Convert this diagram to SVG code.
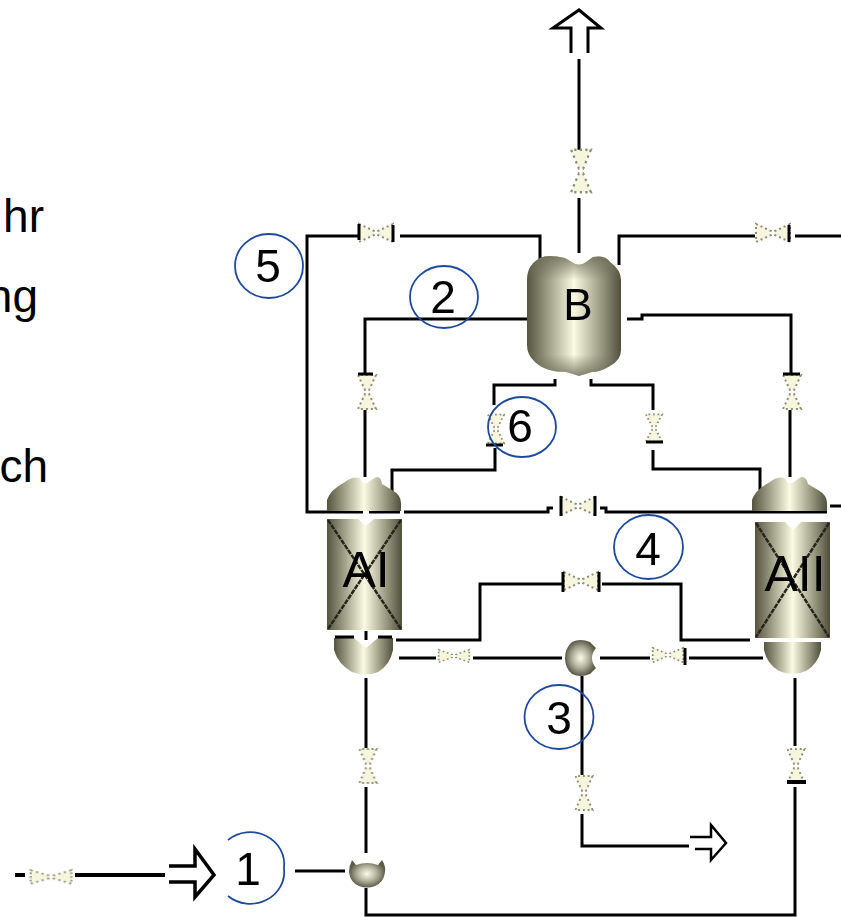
<svg xmlns="http://www.w3.org/2000/svg" xmlns:xlink="http://www.w3.org/1999/xlink" width="841" height="917" viewBox="0 0 841 917">
<style>
.t{font-family:"Liberation Sans",Arial,sans-serif;fill:#000;text-anchor:middle}
.n{font-size:46px}
.side{font-family:"Liberation Sans",Arial,sans-serif;font-size:46px;fill:#000;text-anchor:end}
.c{fill:none;stroke:#000;stroke-width:3;stroke-linejoin:miter}
.ring{fill:none;stroke:#1f4a9c;stroke-width:1.8}
.bar{fill:none;stroke:#000;stroke-width:3}
.vf{fill:#f6f6df;stroke:#8d8d72;stroke-width:2;stroke-dasharray:2 3}
.x{stroke:#26261c;stroke-width:2.5;stroke-dasharray:5 1;fill:none}
.vv{fill:url(#hg)}
.ov{fill:url(#vg)}
.ball{fill:url(#rg)}
</style>
<defs>
<filter id="soft" x="-10%" y="-10%" width="120%" height="120%"><feGaussianBlur stdDeviation="0.5"/></filter>
<linearGradient id="hg" x1="0" y1="0" x2="1" y2="0">
<stop offset="0" stop-color="#55553f"/><stop offset=".18" stop-color="#8f8f78"/><stop offset=".5" stop-color="#fbfbe4"/><stop offset=".82" stop-color="#8f8f78"/><stop offset="1" stop-color="#4f4f3c"/>
</linearGradient>
<linearGradient id="vg" x1="0" y1="0" x2="0" y2="1">
<stop offset="0" stop-color="#6a6a55" stop-opacity=".8"/><stop offset=".2" stop-color="#6a6a55" stop-opacity="0"/><stop offset=".82" stop-color="#6a6a55" stop-opacity="0"/><stop offset="1" stop-color="#6a6a55" stop-opacity=".8"/>
</linearGradient>
<radialGradient id="rg"><stop offset="0" stop-color="#fbfbe8"/><stop offset=".55" stop-color="#b0b09a"/><stop offset="1" stop-color="#5c5c4a"/></radialGradient>
<g id="vh"><path class="vf" d="M-17,-9 L-2,-2 V2 L-17,9 Z M17,-9 L2,-2 V2 L17,9 Z"/></g>
</defs>

<g id="side-text">
<text class="side" x="44" y="232">hr</text>
<text class="side" x="38" y="312">ng</text>
<text class="side" x="48" y="482">ch</text>
</g>

<g id="connectors">
<path class="c" d="M579,59V150M579,198V253"/>
<path class="c" d="M540,262V236H400M358,236H307V512H363M369,512H400M404,512H548V508H553M600,508H606V512H827"/>
<path class="c" d="M619,265V236H755M795,236H841M830,506H841"/>
<path class="c" d="M527,319H365V373M365,410V477"/>
<path class="c" d="M627,319H642V315H791V373M790,410V477"/>
<path class="c" d="M555,379V385H494V405M495,448V470H392V492"/>
<path class="c" d="M591,379V385H653V410M653,450V469H760V490"/>
<path class="c" d="M396,640H480V584H562M602,584H681V640H750"/>
<path class="c" d="M399,658H436M473,658H562M600,658H650M689,658H763"/>
<path class="c" d="M582,676V775M582,814V846H689"/>
<path class="c" d="M366,678V748M366,787V853M366,888V915H795V787M795,746V678"/>
<path class="c" d="M295,871H345"/>
<path class="c" d="M15,875H25M75,875H165" style="stroke-width:4"/>
</g>

<g id="vessel-B" filter="url(#soft)">
<path class="vv" d="M540,258Q548,254 565,258L572,262Q579,267 586,262L593,257Q605,255 610,262Q621,270 621,280V350Q621,360 610,366Q600,372 592,372L579,376L566,372Q545,372 535,362Q527,355 527,345V280Q527,265 540,258Z"/>
<path class="ov" d="M540,258Q548,254 565,258L572,262Q579,267 586,262L593,257Q605,255 610,262Q621,270 621,280V350Q621,360 610,366Q600,372 592,372L579,376L566,372Q545,372 535,362Q527,355 527,345V280Q527,265 540,258Z"/>
<text class="t" x="578" y="320" font-size="44">B</text>
</g>

<g id="vessel-AI" filter="url(#soft)">
<path class="vv" d="M327,511V500Q330,490 345,482Q352,476 360,478L362,482Q366,485 370,481L376,477Q381,476 382,484L392,490Q401,495 401,503V511Z"/>
<rect class="vv" x="327" y="519" width="75" height="111"/>
<path fill="#fff" d="M358,519H374L366,526Z"/>
<path class="x" d="M328,520L401,629M401,520L328,629"/>
<text class="t" x="366" y="587" font-size="50">AI</text>
<path class="vv" d="M334,638H354L366,648L378,638H393V650Q390,665 378,672Q366,677 352,672Q338,664 334,650Z"/>
<path class="c" d="M335,637H354M378,637H392"/>
<path class="c" d="M366,631V640"/>
</g>

<g id="vessel-AII" filter="url(#soft)">
<path class="vv" d="M752,511V500Q755,490 770,482Q777,476 785,478L787,482Q791,485 795,481L801,477Q806,476 808,484L818,490Q827,495 827,503V511Z"/>
<rect class="vv" x="755" y="522" width="75" height="116"/>
<path fill="#fff" d="M785,522H801L793,530Z"/>
<path class="x" d="M756,523L829,637M829,523L756,637"/>
<text class="t" x="795" y="591" font-size="50">AII</text>
<path class="vv" d="M764,642H821V650Q818,664 806,671Q793,677 779,671Q767,664 764,650Z"/>
</g>

<g id="junction-3" filter="url(#soft)"><path class="ball" d="M572,642Q580,638 590,642L596,648Q588,658 596,668L590,674Q580,678 572,674Q565,668 565,658Q565,648 572,642Z"/></g>
<g id="junction-1" filter="url(#soft)"><path class="ball" d="M352,860L356,865Q367,861 378,865L382,860Q386,866 385,872Q384,882 375,886Q367,889 359,886Q350,882 349,872Q349,866 352,860Z"/></g>

<g id="valves" filter="url(#soft)">
<g id="v-top"><use xlink:href="#vh" transform="translate(581,171) rotate(90) scale(1.25,1.1)"/></g>
<g id="v-5"><use xlink:href="#vh" transform="translate(376,233)"/><path class="bar" d="M393,225V242M359,224V240"/></g>
<g id="v-right-top"><use xlink:href="#vh" transform="translate(773,233)"/><path class="bar" d="M789,225V242"/></g>
<g id="v-2l"><use xlink:href="#vh" transform="translate(367,392) rotate(90) scale(1,1)"/><path class="bar" d="M358,374H373"/></g>
<g id="v-2r"><use xlink:href="#vh" transform="translate(792,392) rotate(90) scale(1,1)"/><path class="bar" d="M783,374H800"/></g>
<g id="v-6"><use xlink:href="#vh" transform="translate(496,429) rotate(90) scale(.85,.9)"/><path class="bar" d="M486,445H503"/></g>
<g id="v-6r"><use xlink:href="#vh" transform="translate(654,428) rotate(90) scale(.8,.9)"/><path class="bar" d="M646,442H663"/></g>
<g id="v-4a"><use xlink:href="#vh" transform="translate(578,506)"/><path class="bar" d="M561,496V516M595,496V516"/></g>
<g id="v-4b"><use xlink:href="#vh" transform="translate(581,581)"/><path class="bar" d="M563,572V592M599,572V592"/></g>
<g id="v-3l"><use xlink:href="#vh" transform="translate(454,656) scale(.9,.7)"/></g>
<g id="v-3r"><use xlink:href="#vh" transform="translate(668,655) scale(.9,.8)"/><path class="bar" d="M685,648V665"/></g>
<g id="v-AIb"><use xlink:href="#vh" transform="translate(368,766) rotate(90) scale(1,.95)"/></g>
<g id="v-AIIb"><use xlink:href="#vh" transform="translate(796,766) rotate(90) scale(1,.95)"/><path class="bar" d="M787,782H806" style="stroke-width:4"/></g>
<g id="v-3b"><use xlink:href="#vh" transform="translate(584,793) rotate(90) scale(1,.95)"/></g>
<g id="v-in"><use xlink:href="#vh" transform="translate(51,877) scale(1.2,.75)"/></g>
</g>

<g id="arrows">
<path class="c" d="M571,53V28H553L579,10L601,28H588V53"/>
<path class="c" d="M690,837H711V825L726,843L711,860V849H695" style="stroke-width:2.5"/>
<path class="c" d="M169,866H195V849L214,875L195,897V882H169" style="stroke-width:3.5"/>
</g>

<g id="labels">
<ellipse class="ring" cx="269" cy="266" rx="34" ry="32"/><text class="t n" x="268" y="282">5</text>
<ellipse class="ring" cx="444" cy="297" rx="34" ry="31"/><text class="t n" x="443" y="313">2</text>
<ellipse class="ring" cx="522" cy="427" rx="34" ry="30"/><text class="t n" x="520" y="442">6</text>
<ellipse class="ring" cx="648.5" cy="547" rx="34.5" ry="32"/><text class="t n" x="648" y="565">4</text>
<ellipse class="ring" cx="559" cy="717" rx="34.5" ry="32"/><text class="t n" x="559" y="734">3</text>
<path class="ring" d="M228,840A34,32 0 0 1 284,868A34,32 0 0 1 228,896"/><text class="t n" x="248" y="885">1</text>
</g>
</svg>
